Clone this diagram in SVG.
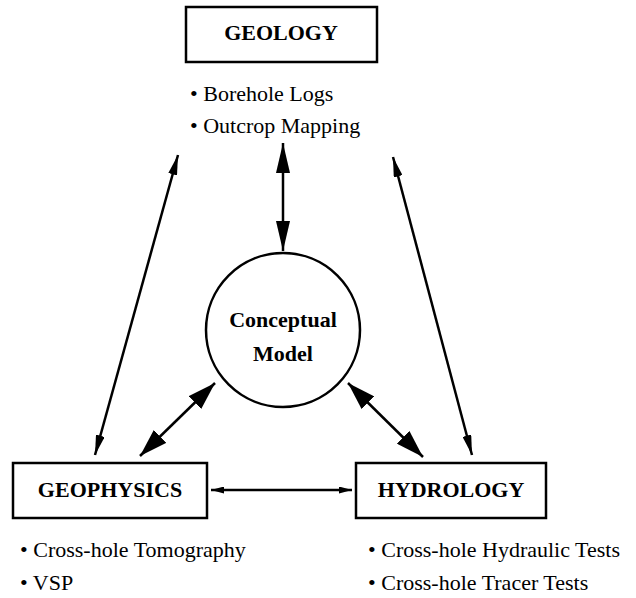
<svg xmlns="http://www.w3.org/2000/svg" width="636" height="598" viewBox="0 0 636 598">
<defs>
<style>
.box{fill:#fff;stroke:#000;stroke-width:2.5}
.title{font-family:"Liberation Serif","Times New Roman",serif;font-weight:bold;font-size:22px;fill:#000;text-anchor:middle}
.item{font-family:"Liberation Serif","Times New Roman",serif;font-size:22px;fill:#000}
.conn{stroke:#000;stroke-width:2.5;fill:none}
.thin{stroke:#000;stroke-width:2;fill:none}
</style>
<marker id="big" markerUnits="userSpaceOnUse" markerWidth="28" markerHeight="18" refX="28" refY="9" orient="auto-start-reverse"><path d="M0,0 L28,9 L0,18 Z" fill="#000"/></marker>
<marker id="tall" markerUnits="userSpaceOnUse" markerWidth="30" markerHeight="14" refX="30" refY="7" orient="auto-start-reverse"><path d="M0,0 L30,7 L0,14 Z" fill="#000"/></marker>
<marker id="slim" markerUnits="userSpaceOnUse" markerWidth="20" markerHeight="9" refX="20" refY="4.5" orient="auto-start-reverse"><path d="M0,0 L20,4.5 L0,9 Z" fill="#000"/></marker>
<marker id="small" markerUnits="userSpaceOnUse" markerWidth="13" markerHeight="7" refX="13" refY="3.5" orient="auto-start-reverse"><path d="M0,0 L13,3.5 L0,7 Z" fill="#000"/></marker>
</defs>
<rect width="636" height="598" fill="#fff"/>
<g id="connectors">
<line class="conn" x1="283" y1="143" x2="283" y2="251" marker-start="url(#tall)" marker-end="url(#tall)"/>
<line class="conn" x1="178" y1="155" x2="95" y2="455" marker-start="url(#slim)" marker-end="url(#slim)"/>
<line class="conn" x1="393" y1="157" x2="472" y2="455" marker-start="url(#slim)" marker-end="url(#slim)"/>
<line class="conn" x1="215" y1="383" x2="140" y2="456" marker-start="url(#big)" marker-end="url(#big)"/>
<line class="conn" x1="348" y1="383" x2="423" y2="457" marker-start="url(#big)" marker-end="url(#big)"/>
<line class="conn" x1="211" y1="490" x2="352" y2="490" marker-start="url(#small)" marker-end="url(#small)"/>
</g>
<g id="geology">
<rect class="box" x="186" y="7" width="191" height="55"/>
<text class="title" x="281" y="40">GEOLOGY</text>
<text class="item" x="190" y="101">• Borehole Logs</text>
<text class="item" x="190" y="133">• Outcrop Mapping</text>
</g>
<g id="conceptual-model">
<circle class="box" cx="283" cy="330" r="77"/>
<text class="title" x="283" y="327">Conceptual</text>
<text class="title" x="283" y="361">Model</text>
</g>
<g id="geophysics">
<rect class="box" x="13" y="463" width="194" height="55"/>
<text class="title" x="110" y="497">GEOPHYSICS</text>
<text class="item" x="20" y="557">• Cross-hole Tomography</text>
<text class="item" x="20" y="590">• VSP</text>
</g>
<g id="hydrology">
<rect class="box" x="356" y="463" width="190" height="55"/>
<text class="title" x="451" y="497">HYDROLOGY</text>
<text class="item" x="368" y="557">• Cross-hole Hydraulic Tests</text>
<text class="item" x="368" y="590">• Cross-hole Tracer Tests</text>
</g>
</svg>
